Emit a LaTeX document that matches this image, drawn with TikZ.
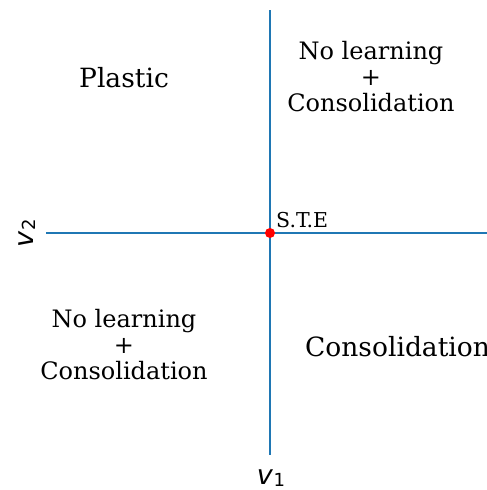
\documentclass[tikz,border=0pt]{standalone}
\usepackage{fontspec}
\setmainfont{DejaVu Serif}
\newfontfamily\axisfont{DejaVu Sans}
% italic variable with a sans subscript
\newcommand{\axisvar}[1]{\textit{v}\kern0.5pt\raisebox{-2pt}{\fontsize{18}{18}\selectfont #1}}
\begin{document}
\begin{tikzpicture}[x=1pt,y=-1pt,
  axisline/.style={draw={rgb,255:red,31;green,119;blue,180},line width=1.5pt},
  region/.style={inner sep=0pt,align=center,font=\fontsize{24}{26}\selectfont},
  bigregion/.style={inner sep=0pt,font=\fontsize{26.5}{28}\selectfont},
  axislabel/.style={inner sep=0pt,font=\axisfont\fontsize{27}{28}\selectfont}]
  \useasboundingbox (0,0) rectangle (487,490);
  % axis ends
  \coordinate (top) at (270,10);
  \coordinate (bottom) at (270,455);
  \coordinate (left) at (46,233);
  \coordinate (right) at (487,233);
  \draw[axisline] (top) -- (bottom);
  \draw[axisline] (left) -- (right);
  % equilibrium point
  \node[circle,fill=red,inner sep=0pt,minimum size=10pt] (ste) at (270,233) {};
  \node[inner sep=0pt,anchor=base west,font=\fontsize{20.5}{22}\selectfont] (stelabel) at (276,227) {S.T.E};
  % quadrant labels
  \node[bigregion] (plastic) at (124,78) {Plastic};
  \node[region] (nlcUR) at (371,77) {No learning\\+\\Consolidation};
  \node[region] (nlcLL) at (124,345) {No learning\\+\\Consolidation};
  \node[bigregion,anchor=west] (cons) at (305,347) {Consolidation};
  % axis labels
  \node[axislabel,rotate=90,anchor=base] (v2) at (33,233) {\axisvar{2}};
  \node[axislabel,anchor=base] (v1) at (271,484) {\axisvar{1}};
\end{tikzpicture}
\end{document}
